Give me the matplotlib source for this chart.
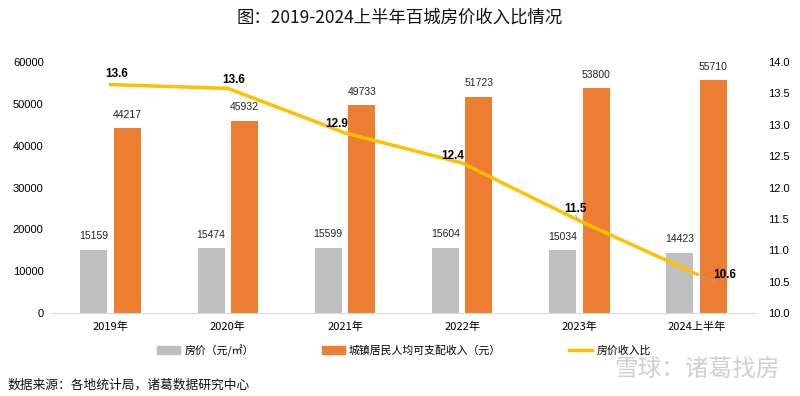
import matplotlib
matplotlib.use("Agg")
import matplotlib.pyplot as plt
import numpy as np
from matplotlib.patches import Patch
from matplotlib.lines import Line2D

plt.rcParams['font.family'] = ['Noto Sans CJK SC', 'DejaVu Sans']

categories = ["2019年", "2020年", "2021年", "2022年", "2023年", "2024上半年"]
house_price = [15159, 15474, 15599, 15604, 15034, 14423]
income = [44217, 45932, 49733, 51723, 53800, 55710]
ratio = [13.64, 13.58, 12.87, 12.39, 11.47, 10.62]
ratio_labels = ["13.6", "13.6", "12.9", "12.4", "11.5", "10.6"]

c_gray = "#BFBFBF"
c_orange = "#ED7D31"
c_yellow = "#FFC000"
num_font = "Liberation Sans"

fig = plt.figure(figsize=(8, 3.96), dpi=100)
ax = fig.add_axes([0.065, 0.2096, 0.879, 0.6338])
ax2 = ax.twinx()

x = np.arange(len(categories))
w = 0.23
off = 0.143
ax.bar(x - off, house_price, w, color=c_gray, zorder=2)
ax.bar(x + off, income, w, color=c_orange, zorder=2)
for xi, v in zip(x, house_price):
    ax.text(xi - off, v + 2000, str(v), ha='center', va='bottom', fontsize=7.5,
            family=num_font, color='#222222')
for xi, v in zip(x, income):
    ax.text(xi + off, v + 2000, str(v), ha='center', va='bottom', fontsize=7.5,
            family=num_font, color='#222222')

ax.set_xlim(-0.5, len(categories) - 0.5)
ax.set_ylim(0, 60000)
ax.set_yticks(np.arange(0, 60001, 10000))
ax.set_yticklabels([str(v) for v in range(0, 60001, 10000)], family=num_font, fontsize=8)
ax.set_xticks(x)
ax.set_xticklabels(categories, fontsize=8)
ax.tick_params(axis='x', length=0, pad=6)
ax.tick_params(axis='y', length=0, pad=6)
for s in ['top', 'right', 'left']:
    ax.spines[s].set_visible(False)
ax.spines['bottom'].set_color('#D9D9D9')

ax2.plot(x, ratio, color=c_yellow, lw=2.5, zorder=3)
ax2.set_ylim(10, 14)
ax2.set_yticks(np.arange(10, 14.01, 0.5))
ax2.set_yticklabels([f"{v:.1f}" for v in np.arange(10, 14.01, 0.5)], family=num_font, fontsize=8)
ax2.tick_params(axis='y', length=0, pad=9)
for s in ['top', 'right', 'left', 'bottom']:
    ax2.spines[s].set_visible(False)

# label offsets (points) relative to each line point
label_offsets = [(4, 3), (4, 2), (-6, 2), (-7, 1), (-3, 4), (20, -1)]
for i, (xi, v, lab, (dx, dy)) in enumerate(zip(x, ratio, ratio_labels, label_offsets)):
    ax2.annotate(lab, (xi, v), xytext=(dx, dy), textcoords='offset points',
                 ha='center', va='bottom' if i < 5 else 'center', fontsize=8.5,
                 fontweight='bold', family=num_font, color='black', zorder=5)

# thin leader lines as in the reference
ax2.annotate("", (x[4], ratio[4]), xytext=(-3, 4), textcoords='offset points',
             arrowprops=dict(arrowstyle='-', color='#A6A6A6', lw=0.6, shrinkA=0, shrinkB=0))
ax2.annotate("", (x[5], ratio[5]), xytext=(14, -6), textcoords='offset points',
             arrowprops=dict(arrowstyle='-', color='#A6A6A6', lw=0.6, shrinkA=0, shrinkB=0))

fig.text(0.5, 0.955, "图：2019-2024上半年百城房价收入比情况", ha='center', va='center',
         fontsize=12.5, fontweight='medium', color='#111111')

handles = [Patch(color=c_gray), Patch(color=c_orange), Line2D([0], [0], color=c_yellow, lw=2.5)]
labels = ["房价（元/㎡）", "城镇居民人均可支配收入（元）", "房价收入比"]
fig.legend(handles, labels, loc='center', bbox_to_anchor=(0.505, 0.115), ncol=3,
           frameon=False, fontsize=7.8, handlelength=2.1, columnspacing=6.3, handletextpad=0.4)

fig.text(0.01, 0.028, "数据来源：各地统计局，诸葛数据研究中心", ha='left', va='center',
         fontsize=9.2, color='#111111')
fig.text(0.975, 0.065, "雪球：诸葛找房", ha='right', va='center', fontsize=17,
         color='#D0D0D0')

fig.savefig("out.png", dpi=100)
